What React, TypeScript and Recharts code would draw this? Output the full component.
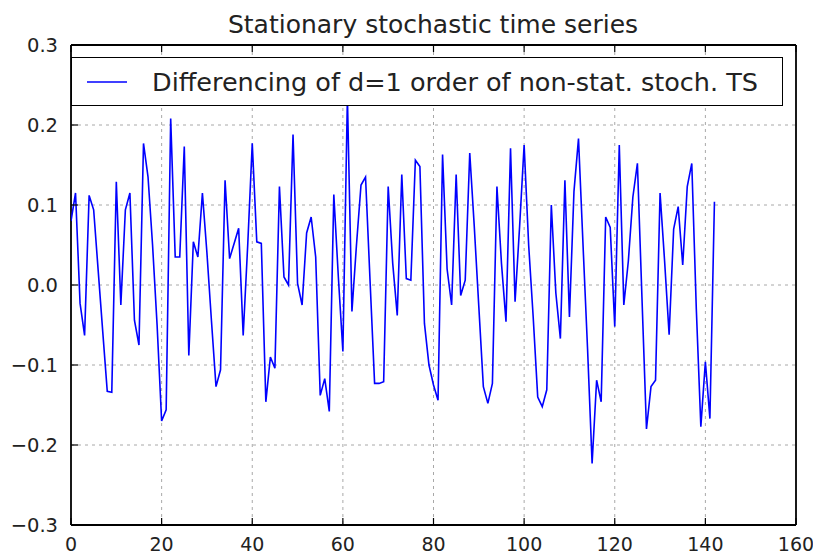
import { LineChart, Line, XAxis, YAxis, CartesianGrid, Legend } from 'recharts';

// first difference of the series (index 0..142)
const diffValues = [
  0.08, 0.115, -0.023, -0.063, 0.112, 0.094, 0.018, -0.058, -0.133, -0.134,
  0.129, -0.025, 0.094, 0.115, -0.044, -0.075, 0.177, 0.135, 0.05, -0.05,
  -0.17, -0.156, 0.208, 0.035, 0.035, 0.173, -0.088, 0.054, 0.035, 0.115,
  0.04, -0.045, -0.127, -0.106, 0.131, 0.033, 0.052, 0.071, -0.063, 0.05,
  0.177, 0.054, 0.052, -0.146, -0.09, -0.104, 0.123, 0.01, 0.0, 0.188,
  0.002, -0.025, 0.065, 0.085, 0.035, -0.138, -0.117, -0.158, 0.113, 0.01,
  -0.083, 0.235, -0.033, 0.05, 0.125, 0.135, 0.005, -0.123, -0.123, -0.121,
  0.123, 0.027, -0.038, 0.138, 0.008, 0.006, 0.156, 0.148, -0.048, -0.1,
  -0.125, -0.144, 0.163, 0.02, -0.025, 0.138, -0.013, 0.006, 0.165, 0.073,
  -0.027, -0.127, -0.148, -0.123, 0.123, 0.027, -0.046, 0.171, -0.021, 0.073,
  0.175, 0.05, -0.04, -0.14, -0.152, -0.131, 0.1, -0.01, -0.067, 0.131,
  -0.04, 0.117, 0.183, 0.05, -0.08, -0.223, -0.119, -0.146, 0.085, 0.072,
  -0.052, 0.175, -0.025, 0.03, 0.11, 0.152, -0.015, -0.18, -0.127, -0.119,
  0.115, 0.03, -0.062, 0.07, 0.098, 0.025, 0.123, 0.152, -0.03, -0.177,
  -0.096, -0.167, 0.104,
];

const xTicks = [0, 20, 40, 60, 80, 100, 120, 140, 160];
const yTicks = [-0.3, -0.2, -0.1, 0.0, 0.1, 0.2, 0.3];

const chartTitle = 'Stationary stochastic time series';
const seriesLabel = 'Differencing of d=1 order of non-stat. stoch. TS';

const W = 813;
const H = 555;
const FONT = '"DejaVu Sans", Verdana, sans-serif';
const TICK_LEN = 7;

const fmtY = (v: number) => {
  const s = Math.abs(v).toFixed(1);
  return v < -1e-9 ? `\u2212${s}` : s;
};

function BottomTick(props: any) {
  const { x, y, payload } = props;
  const base = y - 10;
  return (
    <g>
      <line x1={x} x2={x} y1={base} y2={base - TICK_LEN} stroke="#000" strokeWidth={1.2} />
      <text x={x} y={base + 26} textAnchor="middle" fontSize={19} fontFamily={FONT} fill="#222">
        {payload.value}
      </text>
    </g>
  );
}

function TopTick(props: any) {
  const { x, y } = props;
  return <line x1={x} x2={x} y1={y} y2={y + TICK_LEN} stroke="#000" strokeWidth={1.2} />;
}

function LeftTick(props: any) {
  const { x, y, payload } = props;
  const base = x + 13;
  return (
    <g>
      <line x1={base} x2={base + TICK_LEN} y1={y} y2={y} stroke="#000" strokeWidth={1.2} />
      <text x={x} y={y} dy={7} textAnchor="end" fontSize={19.5} fontFamily={FONT} fill="#222">
        {fmtY(payload.value)}
      </text>
    </g>
  );
}

function RightTick(props: any) {
  const { x, y } = props;
  return <line x1={x} x2={x - TICK_LEN} y1={y} y2={y} stroke="#000" strokeWidth={1.2} />;
}

function LegendBox() {
  return (
    <div
      style={{
        boxSizing: 'border-box',
        width: 712,
        height: 49,
        border: '1.6px solid #000',
        background: '#fff',
        display: 'flex',
        alignItems: 'center',
        fontFamily: FONT,
        fontSize: 25.5,
        color: '#222',
      }}
    >
      <svg width={80} height={20}>
        <line x1={15} x2={55} y1={10} y2={10} stroke="#0000ff" strokeWidth={1.5} />
      </svg>
      <span style={{ whiteSpace: 'nowrap' }}>{seriesLabel}</span>
    </div>
  );
}

export default function App() {
  const data = diffValues.map((v, i) => ({ t: i, v }));

  return (
    <div style={{ position: 'absolute', left: 0, top: 0, width: W, height: H, background: '#fff' }}>
      <LineChart width={W} height={H} data={data} margin={{ top: 44, right: 16, bottom: 0, left: 11 }}>
        <CartesianGrid
          xAxisId="b"
          yAxisId="l"
          stroke="#a8a8a8"
          strokeDasharray="3 4"
          verticalValues={xTicks.slice(1, -1)}
          horizontalValues={yTicks.slice(1, -1)}
        />
        <XAxis
          xAxisId="b"
          dataKey="t"
          type="number"
          domain={[0, 160]}
          ticks={xTicks}
          height={30}
          tickLine={false}
          tickSize={0}
          tickMargin={10}
          axisLine={false}
          tick={<BottomTick />}
          interval={0}
          allowDataOverflow
        />
        <XAxis
          xAxisId="t"
          dataKey="t"
          type="number"
          orientation="top"
          domain={[0, 160]}
          ticks={xTicks}
          height={1}
          tickLine={false}
          tickSize={0}
          tickMargin={0}
          axisLine={false}
          tick={<TopTick />}
          interval={0}
        />
        <YAxis
          yAxisId="l"
          type="number"
          domain={[-0.3, 0.3]}
          ticks={yTicks}
          width={60}
          tickLine={false}
          tickSize={0}
          tickMargin={13}
          axisLine={false}
          tick={<LeftTick />}
          interval={0}
          allowDataOverflow
        />
        <YAxis
          yAxisId="r"
          type="number"
          orientation="right"
          domain={[-0.3, 0.3]}
          ticks={yTicks}
          width={1}
          tickLine={false}
          tickSize={0}
          tickMargin={0}
          axisLine={false}
          tick={<RightTick />}
          interval={0}
        />
        {/* plot frame drawn from the domain limits */}
        <CartesianGrid
          xAxisId="b"
          yAxisId="l"
          stroke="#000"
          strokeWidth={1.8}
          verticalValues={[0, 160]}
          horizontalValues={[-0.3, 0.3]}
        />
        <Line
          xAxisId="b"
          yAxisId="l"
          type="linear"
          dataKey="v"
          name={seriesLabel}
          stroke="#0000ff"
          strokeWidth={1.6}
          dot={false}
          activeDot={false}
          isAnimationActive={false}
        />
        <Legend
          layout="horizontal"
          verticalAlign="middle"
          align="center"
          wrapperStyle={{ top: 57, left: 71, width: 712, height: 49 }}
          content={<LegendBox />}
        />
        <text x={433} y={33} textAnchor="middle" fontSize={25} fontFamily={FONT} fill="#222">
          {chartTitle}
        </text>
      </LineChart>
    </div>
  );
}
